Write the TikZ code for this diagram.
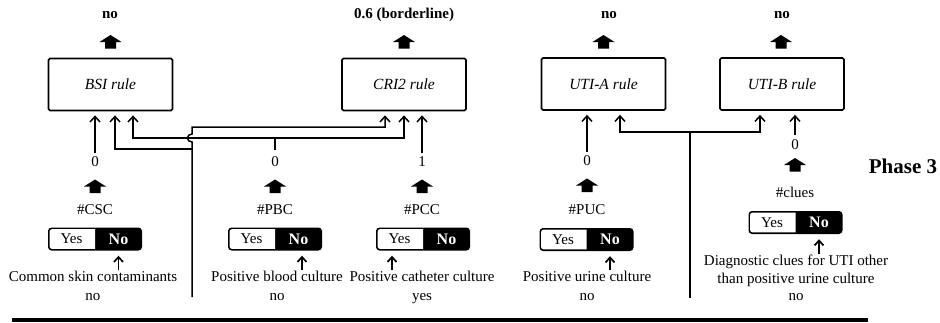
\documentclass[tikz,border=0pt]{standalone}
\usepackage{fontspec}
\setmainfont{Liberation Serif}
\usetikzlibrary{arrows.meta}
\tikzset{
  base/.style={font=\fontsize{15}{17}\selectfont, inner sep=1pt},
  toplab/.style={inner sep=1pt, anchor=base, font=\fontsize{15}{17}\selectfont\bfseries},
  rulebox/.style={draw, line width=1.7pt, rounded corners=1.5pt, minimum width=124pt, minimum height=52pt, font=\fontsize{15.5}{17}\selectfont\itshape},
  zlab/.style={base, inner sep=4pt},
  desc/.style={inner sep=1pt, align=center, anchor=north, font=\fontsize{15}{18.5}\selectfont},
  ynshape/.style={fill=black, rounded corners=3.5pt, minimum width=94pt, minimum height=23pt, inner sep=0pt},
  yestxt/.style={inner sep=1pt, font=\fontsize{15}{16}\selectfont},
  notxt/.style={inner sep=1pt, text=white, font=\fontsize{16}{17}\selectfont\bfseries},
  wire/.style={line width=1.5pt},
  inarr/.style={wire, -{Straight Barb[length=5.5pt,width=10pt]}},
  smarr/.style={line width=1.7pt, -{Straight Barb[length=5pt,width=9pt]}},
  phasestyle/.style={inner sep=1pt, font=\fontsize{21}{24}\selectfont\bfseries},
  fatup/.pic={\fill (-5.5pt,-6.5pt) -- (5.5pt,-6.5pt) -- (5.5pt,0pt) -- (11pt,0pt) -- (0pt,7pt) -- (-11pt,0pt) -- (-5.5pt,0pt) -- cycle;},
}
\newcommand\ynpair[3]{%
  \node[ynshape] (#1) at (#2,#3) {};
  \begin{scope}
    \clip (#1.north west) rectangle (#1.south);
    \fill[white, rounded corners=2.5pt] ([shift={(1.8,1.8)}]#1.north west) rectangle ([shift={(8,-1.8)}]#1.south);
  \end{scope}
  \node[yestxt] (#1-y) at ([xshift=-23.5pt]#1.center) {Yes};
  \node[notxt] (#1-n) at ([xshift=23.5pt]#1.center) {No};
}
\begin{document}
\begin{tikzpicture}[x=1pt,y=-1pt]
\useasboundingbox (0,0) rectangle (940,322);

% rule boxes
\node[rulebox] (bsi) at (110.5,84.5) {BSI rule};
\node[rulebox] (cri) at (404,84.5) {CRI2 rule};
\node[rulebox] (utia) at (603.5,84) {UTI-A rule};
\node[rulebox] (utib) at (782,84) {UTI-B rule};

% outputs
\node[toplab] (obsi) at (110,18.5) {no};
\node[toplab] (ocri) at (404,18.5) {0.6 (borderline)};
\node[toplab] (outia) at (609,18.5) {no};
\node[toplab] (outib) at (782,18.5) {no};
\pic at (110.5,42) {fatup};
\pic at (404,42) {fatup};
\pic at (603.5,42) {fatup};
\pic at (781,42) {fatup};

% input tips
\coordinate (bsi1) at ([shift={(-15.5,4)}]bsi.south);
\coordinate (bsi2) at ([shift={(4.5,4)}]bsi.south);
\coordinate (bsi3) at ([shift={(22.5,4)}]bsi.south);
\coordinate (cri1) at ([shift={(-19,4)}]cri.south);
\coordinate (cri2) at ([shift={(0,4)}]cri.south);
\coordinate (cri3) at ([shift={(18,4)}]cri.south);
\coordinate (utia1) at ([shift={(-16.5,4)}]utia.south);
\coordinate (utia2) at ([shift={(16.5,4)}]utia.south);
\coordinate (utib1) at ([shift={(-22,4)}]utib.south);
\coordinate (utib2) at ([shift={(13,4)}]utib.south);

% value labels
\node[zlab] (csc0) at (95,162) {0};
\node[zlab] (pbc0) at (275,162) {0};
\node[zlab] (pcc1) at (422,162) {1};
\node[zlab] (puc0) at (587,161) {0};
\node[zlab] (clu0) at (795,144.5) {0};

% buses
\coordinate (busLbot) at (192,297);
\coordinate (busLtop) at (192,127);
\coordinate (busLj) at (192,149);
\coordinate (hopB) at (192,142);
\coordinate (hopT) at (192,134);
\coordinate (pbcj) at (275,138);
\coordinate (busRbot) at (690,298);
\coordinate (busRtop) at (690,132);

\draw[inarr] (busLbot) -- (hopB) .. controls +(-6,0) and +(-6,0) .. (hopT) -- (busLtop) -| (cri1);
\draw[inarr] (busLj) -| (bsi2);
\draw[wire] ([yshift=3pt]pbc0.north) -- (pbcj);
\draw[inarr] (pbcj) -| (bsi3);
\draw[inarr] (pbcj) -| (cri2);
\draw[inarr] (csc0) -- (bsi1);
\draw[inarr] (pcc1) -- (cri3);
\draw[inarr] (puc0) -- (utia1);
\draw[inarr] (clu0) -- (utib2);
\draw[wire] (busRbot) -- (busRtop);
\draw[inarr] (busRtop) -| (utia2);
\draw[inarr] (busRtop) -| (utib1);

% lower fat arrows
\pic at (95,186.5) {fatup};
\pic at (275,186.5) {fatup};
\pic at (422,186.5) {fatup};
\pic at (587,185.5) {fatup};
\pic at (795,165) {fatup};

% hash labels
\node[base] (hcsc) at (95,210) {\#CSC};
\node[base] (hpbc) at (275,210) {\#PBC};
\node[base] (hpcc) at (422,210) {\#PCC};
\node[base] (hpuc) at (587,210) {\#PUC};
\node[base] (hclu) at (795,192.5) {\#clues};

% yes/no switches
\ynpair{yncsc}{95}{239}
\ynpair{ynpbc}{275}{239}
\ynpair{ynpcc}{423}{239}
\ynpair{ynpuc}{586.5}{239.5}
\ynpair{ynclu}{795.5}{222.5}

% descriptions
\node[desc] (dcsc) at (93,270) {Common skin contaminants\\no};
\node[desc] (dpbc) at (277,270) {Positive blood culture\\no};
\node[desc] (dpcc) at (422,270) {Positive catheter culture\\yes};
\node[desc] (dpuc) at (587,270) {Positive urine culture\\no};
\node[desc, font=\fontsize{15}{17.5}\selectfont] (dclu) at (796,254) {Diagnostic clues for UTI other\\than positive urine culture\\no};

\coordinate (acsc) at ([shift={(23.5,5)}]yncsc.south);
\coordinate (apbc) at ([shift={(27,5)}]ynpbc.south);
\coordinate (apcc) at ([shift={(-31,5)}]ynpcc.south);
\coordinate (apuc) at ([shift={(23.5,5)}]ynpuc.south);
\coordinate (aclu) at ([shift={(23.5,5)}]ynclu.south);
\draw[smarr] (acsc |- dcsc.north) -- (acsc);
\draw[smarr] (apbc |- dpbc.north) -- (apbc);
\draw[smarr] (apcc |- dpcc.north) -- (apcc);
\draw[smarr] (apuc |- dpuc.north) -- (apuc);
\draw[smarr] (aclu |- dclu.north) -- (aclu);

% phase label and bottom bar
\node[phasestyle] (phase) at (903,166) {Phase 3};
\coordinate (barL) at (12,320);
\coordinate (barR) at (868,320);
\draw[line width=4.5pt] (barL) -- (barR);
\end{tikzpicture}
\end{document}
